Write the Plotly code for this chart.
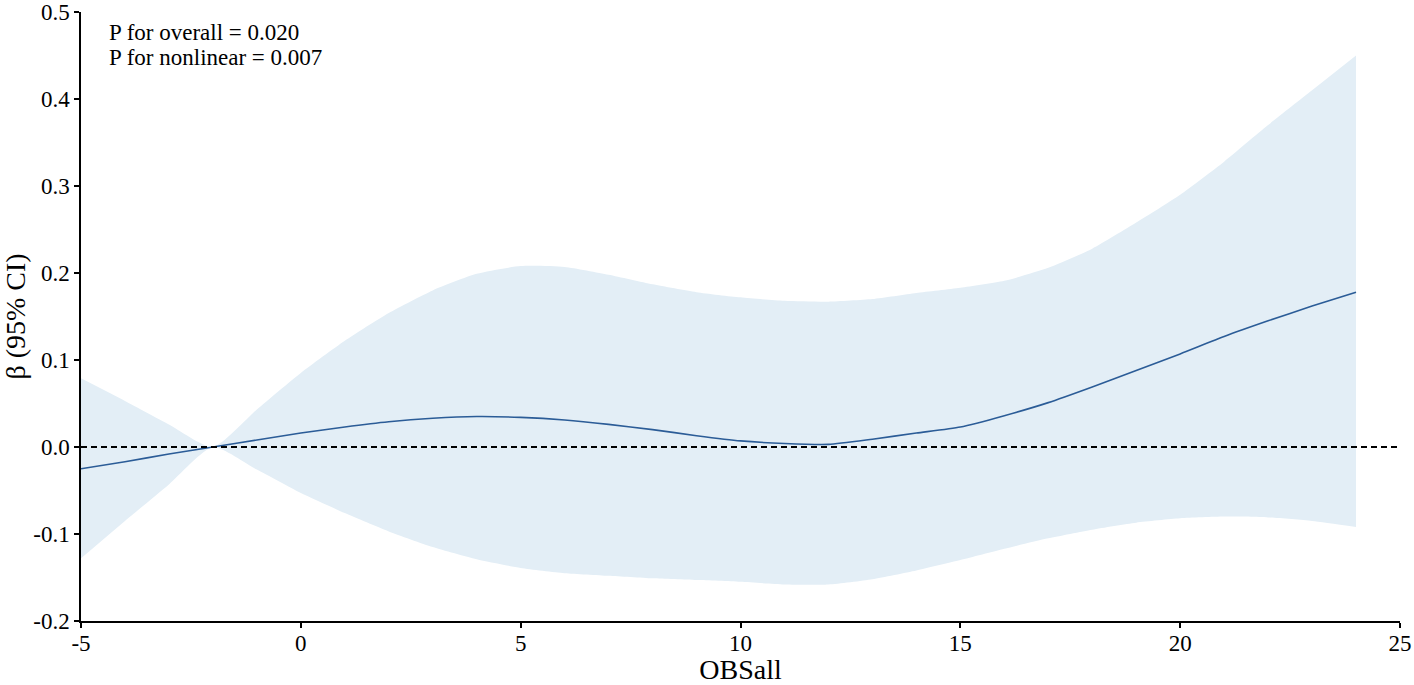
import plotly.graph_objects as go

# spline fit of beta vs OBSall
obs = [-5, -4, -3, -2, -1, 0, 1, 2, 3, 4, 5, 6, 7, 8, 9, 10, 11, 12, 13, 14,
       15, 16, 17, 18, 19, 20, 21, 22, 23, 24]
beta = [-0.025, -0.017, -0.008, 0.0, 0.008, 0.016, 0.023, 0.029, 0.033, 0.035,
        0.034, 0.031, 0.026, 0.020, 0.013, 0.007, 0.004, 0.003, 0.009, 0.016,
        0.023, 0.036, 0.051, 0.069, 0.088, 0.107, 0.127, 0.145, 0.162, 0.178]
upper = [0.079, 0.053, 0.026, 0.0, 0.043, 0.085, 0.122, 0.154, 0.180, 0.199,
         0.208, 0.207, 0.198, 0.187, 0.178, 0.172, 0.168, 0.167, 0.170, 0.177,
         0.183, 0.191, 0.206, 0.228, 0.258, 0.290, 0.328, 0.370, 0.410, 0.450]
lower = [-0.128, -0.085, -0.043, 0.0, -0.026, -0.053, -0.076, -0.097, -0.115, -0.129,
         -0.139, -0.145, -0.148, -0.151, -0.153, -0.155, -0.158, -0.158, -0.152, -0.142,
         -0.130, -0.117, -0.105, -0.095, -0.087, -0.082, -0.080, -0.081, -0.085, -0.092]

x_ticks = [-5, 0, 5, 10, 15, 20, 25]
y_ticks = [-0.2, -0.1, 0.0, 0.1, 0.2, 0.3, 0.4, 0.5]
y_ticktext = ["-0.2", "-0.1", "0.0", "0.1", "0.2", "0.3", "0.4", "0.5"]
x_ticktext = ["-5", "0", "5", "10", "15", "20", "25"]

band_color = "#e3eef6"
line_color = "#2b5c97"
font = "Liberation Serif"
fsize = 23

fig = go.Figure()

_ = fig.add_trace(go.Scatter(
    x=obs, y=lower, mode="lines", line=dict(width=0, shape="spline", smoothing=0.6),
    showlegend=False, hoverinfo="skip",
))
_ = fig.add_trace(go.Scatter(
    x=obs, y=upper, mode="lines", line=dict(width=0, shape="spline", smoothing=0.6),
    fill="tonexty", fillcolor=band_color, showlegend=False, hoverinfo="skip",
))
_ = fig.add_trace(go.Scatter(
    x=obs, y=beta, mode="lines", line=dict(color=line_color, width=1.6, shape="spline", smoothing=0.6),
    showlegend=False,
))

# reference line at beta = 0
fig.add_hline(y=0, line=dict(color="black", width=2, dash="6px,4px"))

fig.add_annotation(
    x=-4.42, y=0.477, xref="x", yref="y", xanchor="left", yanchor="middle",
    text="P for overall = 0.020", showarrow=False,
    font=dict(family=font, size=fsize, color="black"),
)
fig.add_annotation(
    x=-4.42, y=0.448, xref="x", yref="y", xanchor="left", yanchor="middle",
    text="P for nonlinear = 0.007", showarrow=False,
    font=dict(family=font, size=fsize, color="black"),
)

fig.update_layout(
    width=1414, height=685,
    margin=dict(l=81, r=14, t=12, b=64),
    plot_bgcolor="white", paper_bgcolor="white",
    font=dict(family=font, size=fsize, color="black"),
    xaxis=dict(
        range=[-5, 25], tickvals=x_ticks, ticktext=x_ticktext,
        showline=True, linecolor="black", linewidth=1.5,
        ticks="outside", ticklen=5, tickwidth=1.5, tickcolor="black",
        ticklabelstandoff=-4, ticklabeloverflow="allow",
        showgrid=False, zeroline=False, automargin=False,
        title=dict(text="OBSall", standoff=4),
    ),
    yaxis=dict(
        range=[-0.2, 0.5], tickvals=y_ticks, ticktext=y_ticktext,
        showline=True, linecolor="black", linewidth=1.5,
        ticks="outside", ticklen=5, tickwidth=1.5, tickcolor="black",
        ticklabeloverflow="allow",
        showgrid=False, zeroline=False, automargin=False,
        title=dict(text="β (95% CI)", standoff=6),
    ),
)

# drop the default 8px page margin so the figure sits at the window corner
fig.write_html(
    "out.html",
    config={"displayModeBar": False},
    post_script="document.body.style.margin='0';",
)
